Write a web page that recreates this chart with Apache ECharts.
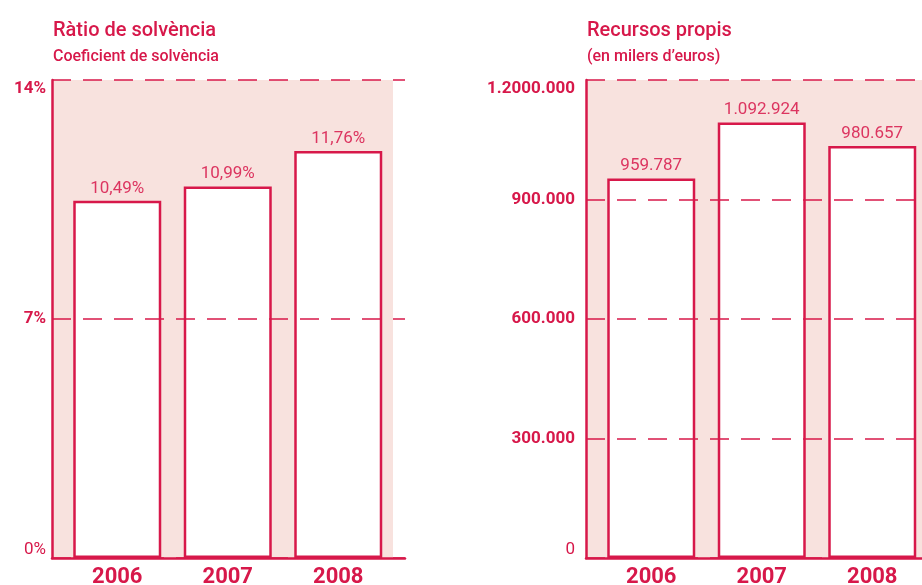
<!DOCTYPE html>
<html lang="ca">
<head>
	<meta charset="UTF-8">
	<title>Ràtio de solvència i recursos propis</title>
	<script src="https://cdn.jsdelivr.net/npm/echarts@6/dist/echarts.min.js"></script>
	<style>
		html, body { margin: 0; padding: 0; background: #fff; }
	</style>
</head>
<body>
	<div id="main" style="width: 922px;height:585px;"></div>
<script type="text/javascript">
	// dades
	var anys = ['2006', '2007', '2008'];
	// alçades llegides de la imatge
	var ratio = [10.46, 10.88, 11.92];
	var ratioEtiquetes = ['10,49%', '10,99%', '11,76%'];
	var recursos = [953000, 1093000, 1034000];
	var recursosEtiquetes = ['959.787', '1.092.924', '980.657'];
	var ratioTicks = { 0: '0%', 7: '7%', 14: '14%' };
	var recursosTicks = { 0: '0', 300000: '300.000', 600000: '600.000', 900000: '900.000', 1200000: '1.2000.000' };

	var vermell = '#d7184a';
	var rosa = '#f8e2de';
	var font = 'Roboto, "Liberation Sans", Arial, sans-serif';

	var myChart = echarts.init(document.getElementById('main'));

	function tickFmt(map) {
		return function (v) {
			if (v === 0) return '{l|' + map[v] + '}';
			return map[v] !== undefined ? map[v] : '';
		};
	}

	// 3 grids per gràfic: fons, marc (eixos i línies) i barres
	function grids(x, fonsW, marcW) {
		var base = { top: 80, height: 478, outerBoundsMode: 'none', containLabel: false };
		return [
			Object.assign({ left: x, width: fonsW, show: true, backgroundColor: rosa, borderWidth: 0 }, base),
			Object.assign({ left: x, width: marcW }, base),
			Object.assign({ left: x + 10, width: 331.5 }, base)
		];
	}

	function yAxes(gi, max, interval, map, margin) {
		return [
			{ gridIndex: gi, type: 'value', min: 0, max: max, show: false },
			{
				gridIndex: gi + 1, type: 'value', min: 0, max: max, interval: interval, z: 5,
				axisLine: { show: true, lineStyle: { color: vermell, width: 2.5 } },
				axisTick: { show: false },
				splitLine: { show: true, lineStyle: { color: vermell, width: 1.5, type: [19, 12] } },
				axisLabel: {
					color: vermell, fontFamily: font, fontSize: 17, fontWeight: 'bold', margin: margin,
					verticalAlignMinLabel: 'bottom', verticalAlignMaxLabel: 'top',
					formatter: tickFmt(map),
					rich: { l: { fontFamily: font, fontSize: 17, fontWeight: 'normal', color: vermell } }
				}
			},
			{ gridIndex: gi + 2, type: 'value', min: 0, max: max, show: false }
		];
	}

	function xAxes(gi) {
		return [
			{ gridIndex: gi, type: 'value', show: false },
			{
				gridIndex: gi + 1, type: 'value', min: 0, max: 1, z: 5,
				axisLine: { show: true, lineStyle: { color: vermell, width: 2.5 } },
				axisTick: { show: false }, axisLabel: { show: false }, splitLine: { show: false }
			},
			{
				gridIndex: gi + 2, type: 'category', data: anys,
				axisLine: { show: false }, axisTick: { show: false },
				axisLabel: { color: vermell, fontFamily: font, fontSize: 22, fontWeight: 'bold', margin: 8 }
			}
		];
	}

	function barres(axisIdx, dades, etiquetes) {
		return {
			type: 'bar',
			xAxisIndex: axisIdx, yAxisIndex: axisIdx,
			data: dades,
			barWidth: 88,
			itemStyle: { color: '#fff', borderColor: vermell, borderWidth: 2.5 },
			label: {
				show: true, position: 'top', distance: 4,
				color: '#dc3560', fontFamily: font, fontSize: 17,
				formatter: function (p) { return etiquetes[p.dataIndex]; }
			}
		};
	}

	var titol = { color: vermell, fontFamily: font, fontSize: 20, fontWeight: 500 };
	var subtitol = { color: vermell, fontFamily: font, fontSize: 16, fontWeight: 500 };

	myChart.setOption({
		animation: false,
		title: [
			{ text: 'Ràtio de solvència', subtext: 'Coeficient de solvència', left: 48, top: 16, itemGap: 8,
			  textStyle: titol, subtextStyle: subtitol },
			{ text: 'Recursos propis', subtext: '(en milers d’euros)', left: 582, top: 16, itemGap: 8,
			  textStyle: titol, subtextStyle: subtitol }
		],
		grid: grids(52, 341, 353).concat(grids(586, 336, 336)),
		xAxis: xAxes(0).concat(xAxes(3)),
		yAxis: yAxes(0, 14, 7, ratioTicks, 6).concat(yAxes(3, 1200000, 300000, recursosTicks, 11)),
		series: [
			barres(2, ratio, ratioEtiquetes),
			barres(5, recursos, recursosEtiquetes)
		]
	});
</script>
</body>
</html>
